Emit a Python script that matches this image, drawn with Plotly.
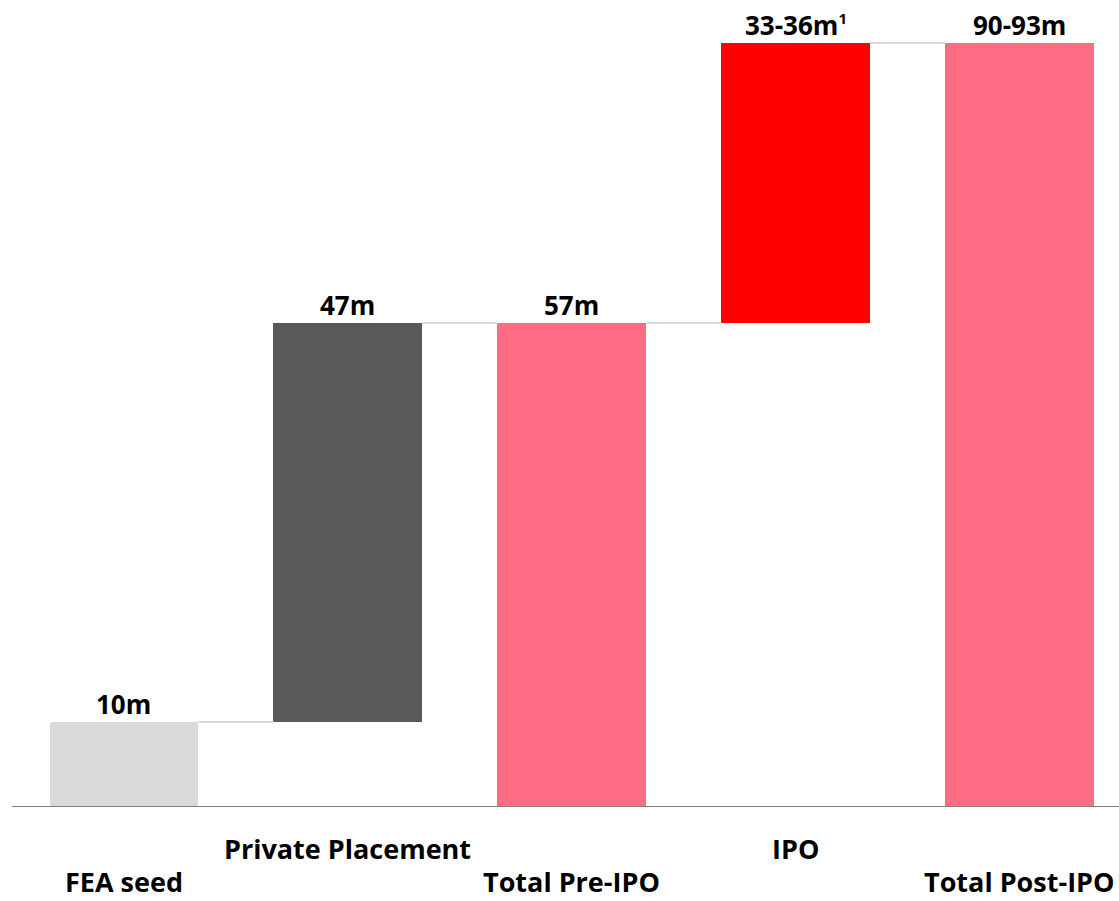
import plotly.graph_objects as go

# Funding build-up (EUR m): steps and totals
categories = ["FEA seed", "Private Placement", "Total Pre-IPO", "IPO", "Total Post-IPO"]
amounts = [10, 47, 57, 33, 90]
is_total = [False, False, True, False, True]
value_labels = ["10m", "47m", "57m",
                "33-36m<sup><span style='font-size:15px'>1</span></sup>", "90-93m"]
bar_colors = ["#D9D9D9", "#595959", "#FF6B83", "#FF0000", "#FF6B83"]

# bases for floating step bars
bases, tops = [], []
running = 0
for amt, tot in zip(amounts, is_total):
    if tot:
        base = 0
        running = amt
    else:
        base = running
        running += amt
    bases.append(base)
    tops.append(base + amt)

x_idx = list(range(len(categories)))
bar_w = 0.665

fig = go.Figure()
fig.add_trace(go.Bar(
    x=x_idx, y=amounts, base=bases,
    marker=dict(color=bar_colors, line=dict(width=0)),
    width=bar_w, hoverinfo="skip", showlegend=False,
))

# connector lines between consecutive bar tops
for i in range(len(categories) - 1):
    level = tops[i]
    fig.add_trace(go.Scatter(
        x=[i + bar_w / 2, i + 1 - bar_w / 2], y=[level, level],
        mode="lines", line=dict(color="#D9D9D9", width=2),
        hoverinfo="skip", showlegend=False,
    ))

font_family = "Open Sans, Noto Sans, sans-serif"
annotations = []
for i, (lab, top) in enumerate(zip(value_labels, tops)):
    annotations.append(dict(
        x=i, y=top, xref="x", yref="y", text=f"<b>{lab}</b>",
        showarrow=False, yanchor="bottom", yshift=-1, borderpad=0,
        font=dict(family=font_family, size=26, color="#000000"),
    ))
# staggered category labels
for i, cat in enumerate(categories):
    annotations.append(dict(
        x=i, y=0, xref="x", yref="paper", text=f"<b>{cat}</b>",
        showarrow=False, yanchor="middle", borderpad=0,
        yshift=-41 if i % 2 == 1 else -74,
        font=dict(family=font_family, size=27, color="#000000"),
    ))

fig.update_layout(
    width=1119, height=901,
    margin=dict(l=11.5, r=0, t=0, b=94),
    plot_bgcolor="white", paper_bgcolor="white",
    annotations=annotations,
    bargap=0,
    xaxis=dict(range=[-0.5, -0.5 + 1107.5 / 224], showgrid=False, zeroline=False,
               showticklabels=False, ticks="", showline=False, fixedrange=True),
    yaxis=dict(range=[0, 95.05], showgrid=False, zeroline=False,
               showticklabels=False, ticks="", showline=False, fixedrange=True),
    shapes=[dict(type="line", xref="paper", yref="y", x0=0, x1=1, y0=0, y1=0,
                 line=dict(color="#7F7F7F", width=2), layer="above")],
)

fig.write_html("out.html")
